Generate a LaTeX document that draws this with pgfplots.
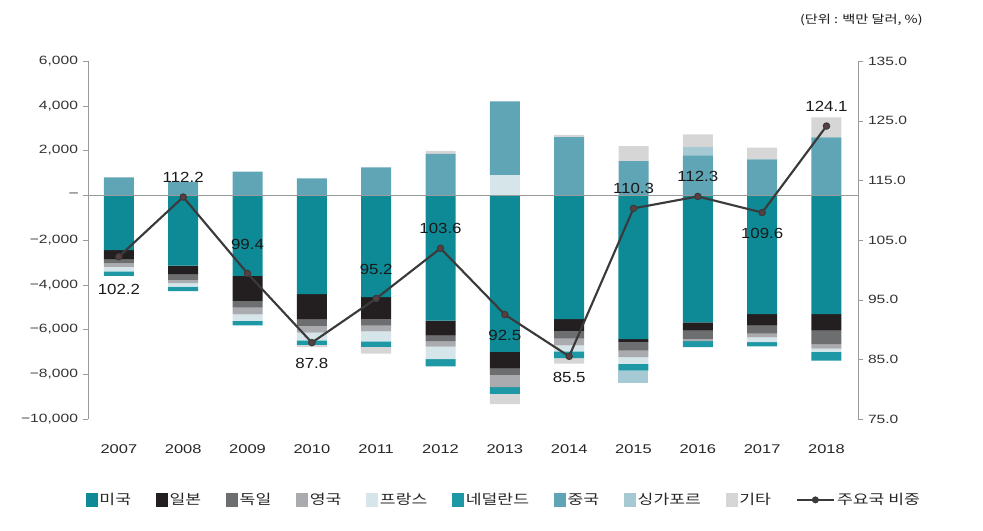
\documentclass[border=0pt]{standalone}
\usepackage{fontspec}
\setmainfont{Liberation Sans}
\newfontfamily\kr{Noto Sans CJK KR}[FakeStretch=1.25]
\newfontfamily\wide{Liberation Sans}[FakeStretch=1.3]
\newfontfamily\midw{Liberation Sans}[FakeStretch=1.15]
\usepackage{pgfplots}
\usepackage{pgfplotstable}
\pgfplotsset{compat=1.18}

\definecolor{cUS}{HTML}{0E8A96}
\definecolor{cJP}{HTML}{231F20}
\definecolor{cDE}{HTML}{6D6E70}
\definecolor{cUK}{HTML}{A9ABAE}
\definecolor{cFR}{HTML}{D6E5E9}
\definecolor{cNL}{HTML}{1E98A4}
\definecolor{cCN}{HTML}{5FA5B5}
\definecolor{cSG}{HTML}{A6CAD3}
\definecolor{cOT}{HTML}{D6D6D6}
\definecolor{cLine}{HTML}{3A3A3A}
\definecolor{cMark}{HTML}{5A3F42}
\definecolor{cAx}{HTML}{9A9A9A}

% negative parts (stack downward from zero)
\pgfplotstableread{
x us jp de uk fr nl sg ot
0 -2450 -400 -200 -150 -200 -200 0 0
1 -3150 -380 -250 -150 -150 -200 0 0
2 -3600 -1120 -300 -300 -300 -200 0 0
3 -4420 -1120 -300 -300 -350 -200 0 -100
4 -4550 -980 -300 -250 -450 -250 0 -300
5 -5600 -670 -250 -250 -550 -330 0 0
6 -7000 -750 -280 -550 0 -300 0 -450
7 -5540 -520 -350 -300 -270 -300 0 -250
8 -6430 -150 -360 -300 -300 -300 -530 0
9 -5680 -370 -370 -100 0 -270 0 0
10 -5310 -520 -350 -170 -220 -180 0 0
11 -5310 -740 -600 -200 -150 -390 0 0
}\negtab

% positive parts (stack upward from zero)
\pgfplotstableread{
x fr cn sg ot
0 0 800 0 0
1 0 600 0 0
2 0 1050 0 0
3 0 750 0 0
4 0 1250 0 0
5 0 1850 0 130
6 900 3300 0 0
7 0 2600 0 100
8 0 1530 0 670
9 0 1770 370 580
10 0 1600 0 530
11 0 2590 0 890
}\postab

\pgfplotstableread{
x r
0 102.2
1 112.2
2 99.4
3 87.8
4 95.2
5 103.6
6 92.5
7 85.5
8 110.3
9 112.3
10 109.6
11 124.1
}\ratiotab

% labels above the point
\pgfplotstableread{
x r
1 112.2
5 103.6
8 110.3
9 112.3
11 124.1
}\ratioabove
% labels further above the point
\pgfplotstableread{
x r
2 99.4
4 95.2
}\ratioabovefar
% labels below the point
\pgfplotstableread{
x r
3 87.8
6 92.5
7 85.5
10 109.6
}\ratiobelow
% label further below the point
\pgfplotstableread{
x r
0 102.2
}\ratiobelowfar

\pgfplotsset{
  base/.style={scale only axis, width=577.5pt, height=268.5pt,
    xmin=-0.48, xmax=11.49, at={(0,0)}, anchor=south west,
    /pgf/number format/assume math mode=true},
  barstyle/.style={ybar stacked, bar width=22.5pt},
  lbl/.style={only marks, mark=none, forget plot, point meta=explicit,
    nodes near coords={\pgfmathprintnumber[fixed,fixed zerofill,precision=1]{\pgfplotspointmeta}},
    every node near coord/.append style={anchor=center, yshift=#1,
      font=\midw\fontsize{11}{12}\selectfont, text=black!90, inner sep=0pt}},
  sw/.style={legend image code/.code={\fill[#1] (0pt,-4.8pt) rectangle (8.5pt,4.8pt);}},
}

\begin{document}
\begin{tikzpicture}
\useasboundingbox (-66pt,-84pt) rectangle (671.25pt,314.25pt);

% axis 1: negative stacks + left axis + x labels
\begin{axis}[base, barstyle, ymin=-10000, ymax=6000,
  scaled y ticks=false,
  axis y line*=left, axis x line*=bottom,
  x axis line style={draw=none}, x tick style={draw=none},
  xtick={0,1,2,3,4,5,6,7,8,9,10,11},
  xticklabels={2007,2008,2009,2010,2011,2012,2013,2014,2015,2016,2017,2018},
  xticklabel style={font=\wide\fontsize{9.5}{10}\selectfont, text=black!85, yshift=-12pt},
  ytick={-10000,-8000,-6000,-4000,-2000,0,2000,4000,6000},
  yticklabels={{−10,000},{−8,000},{−6,000},{−4,000},{−2,000},{–},{2,000},{4,000},{6,000}},
  yticklabel style={font=\wide\fontsize{9}{10}\selectfont, text=black!80},
  y axis line style={cAx}, y tick style={cAx}, tick align=outside,
  major tick length=4pt,
]
\addplot[fill=cUS, draw=none] table[x=x, y=us]{\negtab};
\addplot[fill=cJP, draw=none] table[x=x, y=jp]{\negtab};
\addplot[fill=cDE, draw=none] table[x=x, y=de]{\negtab};
\addplot[fill=cUK, draw=none] table[x=x, y=uk]{\negtab};
\addplot[fill=cFR, draw=none] table[x=x, y=fr]{\negtab};
\addplot[fill=cNL, draw=none] table[x=x, y=nl]{\negtab};
\addplot[fill=cSG, draw=none] table[x=x, y=sg]{\negtab};
\addplot[fill=cOT, draw=none] table[x=x, y=ot]{\negtab};
\end{axis}

% axis 2: positive stacks
\begin{axis}[base, barstyle, ymin=-10000, ymax=6000, hide axis]
\addplot[fill=cFR, draw=none] table[x=x, y=fr]{\postab};
\addplot[fill=cCN, draw=none] table[x=x, y=cn]{\postab};
\addplot[fill=cSG, draw=none] table[x=x, y=sg]{\postab};
\addplot[fill=cOT, draw=none] table[x=x, y=ot]{\postab};
\end{axis}

% axis 3: ratio line + right axis + legend
\begin{axis}[base, ymin=75, ymax=135,
  axis y line*=right, axis x line=none,
  ytick={75,85,95,105,115,125,135},
  yticklabel={\pgfmathprintnumber[fixed,fixed zerofill,precision=1]{\tick}},
  yticklabel style={font=\wide\fontsize{9}{10}\selectfont, text=black!80},
  y axis line style={cAx}, y tick style={cAx}, tick align=outside,
  major tick length=4pt,
  extra y ticks={112.5}, extra y tick labels={},
  extra y tick style={grid=major, major grid style={cAx, line width=0.8pt}, major tick length=0pt},
  legend columns=10,
  legend style={at={(0.54,-0.226)}, anchor=center, draw=none, fill=none,
    font=\kr\fontsize{10.3}{11}\selectfont, text=black!85,
    /tikz/every even column/.append style={column sep=17pt},
    nodes={inner xsep=1.5pt}},
]
\addlegendimage{sw=cUS}\addlegendentry{미국}
\addlegendimage{sw=cJP}\addlegendentry{일본}
\addlegendimage{sw=cDE}\addlegendentry{독일}
\addlegendimage{sw=cUK}\addlegendentry{영국}
\addlegendimage{sw=cFR}\addlegendentry{프랑스}
\addlegendimage{sw=cNL}\addlegendentry{네덜란드}
\addlegendimage{sw=cCN}\addlegendentry{중국}
\addlegendimage{sw=cSG}\addlegendentry{싱가포르}
\addlegendimage{sw=cOT}\addlegendentry{기타}
\addlegendimage{legend image code/.code={\draw[cLine, line width=1.6pt] (0pt,0pt) -- (28pt,0pt); \fill[cLine] (14pt,0pt) circle (2.4pt);}}
\addlegendentry{주요국 비중}
\addplot[forget plot, color=cLine, line width=1.6pt, mark=*, mark size=2.4pt,
  mark options={fill=cMark, draw=cLine, line width=0.8pt}]
  table[x=x, y=r]{\ratiotab};
\addplot[lbl=15pt] table[x=x, y=r, meta=r]{\ratioabove};
\addplot[lbl=21.5pt] table[x=x, y=r, meta=r]{\ratioabovefar};
\addplot[lbl=-15.5pt] table[x=x, y=r, meta=r]{\ratiobelow};
\addplot[lbl=-24.5pt] table[x=x, y=r, meta=r]{\ratiobelowfar};
\end{axis}

\node[font=\kr\fontsize{8.5}{10}\selectfont, text=black!90] at (580pt,299pt) {(단위 : 백만 달러, \%)};
\end{tikzpicture}
\end{document}
